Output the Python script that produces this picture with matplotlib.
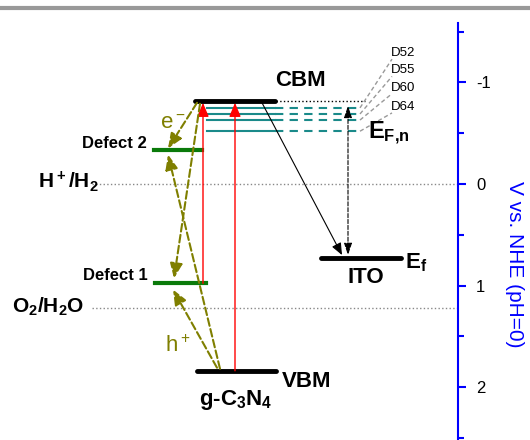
import numpy as np
import matplotlib
matplotlib.use('Agg')
import matplotlib.pyplot as plt
from matplotlib.lines import Line2D

plt.rcParams['font.family'] = ['Liberation Sans', 'DejaVu Sans']
plt.rcParams['mathtext.default'] = 'regular'
plt.rcParams['axes.unicode_minus'] = False

# energy levels, V vs. NHE
cbm = -0.82
vbm = 1.84
defect2 = -0.33
defect1 = 0.98
ito_ef = 0.73
h2_level = 0.0
o2_level = 1.22
dyes = ['D52', 'D55', 'D60', 'D64']
efn = [-0.75, -0.69, -0.63, -0.52]

olive = '#7f7f00'
green = '#0a7a0a'
teal = '#1a8a8a'

fig = plt.figure(figsize=(5.3, 4.4), dpi=100)
ax = fig.add_axes([0, 0, 458 / 530, 417 / 440])
ax.set_xlim(0, 458)
ax.set_ylim(2.522, -1.586)

for s in ['left', 'top', 'bottom']:
    ax.spines[s].set_visible(False)
ax.spines['right'].set_color('blue')
ax.spines['right'].set_linewidth(1.5)
ax.set_xticks([])
ax.yaxis.tick_right()
ax.set_yticks([-1, 0, 1, 2])
ax.set_yticks([-1.5, -0.5, 0.5, 1.5, 2.5], minor=True)
ax.tick_params(axis='y', which='both', colors='blue', labelcolor='black',
               width=1.5, labelsize=12, pad=7)
ax.tick_params(axis='y', which='major', length=6)
ax.tick_params(axis='y', which='minor', length=4)
ax.set_ylabel('V vs. NHE (pH=0)', color='blue', fontsize=15,
              rotation=270, ha='center', va='center')
ax.yaxis.set_label_position('right')
ax.yaxis.set_label_coords(1.145, 0.422)

# redox potentials
ax.plot([92, 458], [h2_level, h2_level], ':', color='#888888', lw=1)
ax.plot([92, 458], [o2_level, o2_level], ':', color='#888888', lw=1)
ax.text(38, 0.04, 'H$^+$/H$_2$', fontsize=15, fontweight='bold', va='baseline')
ax.text(12, 1.27, 'O$_2$/H$_2$O', fontsize=15, fontweight='bold', va='baseline')

# band edges and ITO
ax.plot([195, 275], [cbm, cbm], color='black', lw=3.5, solid_capstyle='round')
ax.plot([197, 276], [vbm, vbm], color='black', lw=3.5, solid_capstyle='round')
ax.plot([321, 401], [ito_ef, ito_ef], color='black', lw=3.5, solid_capstyle='round')
ax.plot([276, 365], [cbm, cbm], ':', color='black', lw=1)

ax.text(300, -1.02, 'CBM', fontsize=16, fontweight='bold', ha='center', va='center')
ax.text(282, 1.95, 'VBM', fontsize=16, fontweight='bold', va='center')
ax.text(236, 2.177, 'g-C$_3$N$_4$', fontsize=16, fontweight='bold', ha='center', va='baseline')
ax.text(366, 0.975, 'ITO', fontsize=16, fontweight='bold', ha='center', va='baseline')
ax.text(405, 0.83, 'E$_f$', fontsize=16, fontweight='bold', va='baseline')
ax.text(368, -0.45, 'E$_{F{,}n}$', fontsize=17, fontweight='bold', va='baseline')

# defect states
ax.plot([154, 202], [defect2, defect2], color=green, lw=3)
ax.plot([155, 206], [defect1, defect1], color=green, lw=3)
ax.text(147, -0.40, 'Defect 2', fontsize=12, fontweight='bold', ha='right', va='center')
ax.text(148, 0.906, 'Defect 1', fontsize=12, fontweight='bold', ha='right', va='center')

# quasi-Fermi levels of the dye-sensitised films
label_y = [-1.29, -1.12, -0.95, -0.76]
for name, e, ly in zip(dyes, efn, label_y):
    ax.plot([207, 275], [e, e], color=teal, lw=1.5)
    ax.plot([275, 360], [e, e], '--', color=teal, lw=1.5, dashes=(4, 3))
    ax.plot([360, 392], [e, ly + 0.06], '--', color='#999999', lw=1, dashes=(3, 2))
    ax.text(391, ly, name, fontsize=9.5, va='center')


def arrow(x0, y0, x1, y1, color, ls='-', lw=1.0, ms=12):
    ax.annotate('', xy=(x1, y1), xytext=(x0, y0),
                arrowprops=dict(arrowstyle='-|>,head_length=0.6,head_width=0.25',
                                color=color, lw=lw, linestyle=ls,
                                mutation_scale=ms, shrinkA=0, shrinkB=0))


# excitation
arrow(203, defect1, 203, cbm + 0.02, 'red', lw=1.0, ms=14)
arrow(235, vbm, 235, cbm + 0.02, 'red', lw=1.0, ms=14)

# trapping and recombination paths
arrow(197, cbm + 0.02, 168, defect2 - 0.02, olive, ls='--', lw=1.5, ms=15)
arrow(200, cbm + 0.03, 174, defect1 - 0.05, olive, ls='--', lw=1.5, ms=15)
arrow(220, vbm - 0.02, 168, defect2 + 0.04, olive, ls='--', lw=1.5, ms=15)
arrow(217, vbm - 0.03, 173, defect1 + 0.06, olive, ls='--', lw=1.5, ms=15)
ax.text(160, -0.55, 'e$^-$', fontsize=16, color=olive, va='baseline')
ax.text(165, 1.655, 'h$^+$', fontsize=16, color=olive, va='baseline')

# transfer to ITO
arrow(262, cbm + 0.02, 342, ito_ef - 0.03, 'black', lw=0.8, ms=12)
ax.annotate('', xy=(348, ito_ef - 0.03), xytext=(348, -0.77),
            arrowprops=dict(arrowstyle='<|-|>,head_length=0.6,head_width=0.2',
                            color='black', lw=0.8, linestyle='--',
                            mutation_scale=12, shrinkA=0, shrinkB=0))

# frame line along the top edge
fig.add_artist(Line2D([0, 1], [1 - 8.5 / 440, 1 - 8.5 / 440], color='#999999', lw=3,
                      transform=fig.transFigure))

fig.savefig('out.png', dpi=100)
